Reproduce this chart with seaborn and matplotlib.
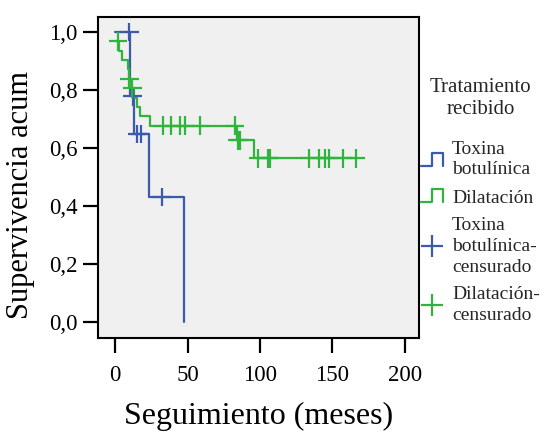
import matplotlib
matplotlib.use("Agg")
import matplotlib.pyplot as plt
from matplotlib.lines import Line2D
from matplotlib.legend_handler import HandlerBase
import seaborn as sns
import pandas as pd

# ---- data ----
groups = ["Toxina botulínica", "Dilatación"]
colors = ["#3c5aab", "#2fb53d"]

tox_t = [0.0, 10.5, 13.0, 23.7, 47.8]
tox_s = [1.000, 0.778, 0.648, 0.432, 0.000]
tox_cens_t = [9.9, 12.0, 15.0, 17.7, 32.2]
tox_cens_s = [1.000, 0.778, 0.648, 0.648, 0.432]

dil_t = [0.0, 2.5, 4.5, 8.7, 9.3, 11.0, 13.0, 15.0, 17.0, 24.0, 84.0, 96.0, 166.2]
dil_s = [0.968, 0.935, 0.903, 0.871, 0.839, 0.806, 0.774, 0.742, 0.710, 0.677,
         0.627, 0.565, 0.565]
dil_cens_t = [1.9, 9.9, 11.9, 33.3, 38.6, 44.8, 48.3, 58.6, 82.8, 84.5, 86.2,
              98.9, 105.7, 106.9, 134.0, 140.7, 145.0, 147.4, 157.0, 166.2]
dil_cens_s = [0.968, 0.839, 0.806, 0.677, 0.677, 0.677, 0.677, 0.677, 0.677,
              0.627, 0.627, 0.565, 0.565, 0.565, 0.565, 0.565, 0.565, 0.565,
              0.565, 0.565]

xticks = [0, 50, 100, 150, 200]
yticks = [0.0, 0.2, 0.4, 0.6, 0.8, 1.0]
ytick_labels = ["0,0", "0,2", "0,4", "0,6", "0,8", "1,0"]
legend_title = "Tratamiento\nrecibido"
legend_labels = ["Toxina\nbotulínica", "Dilatación",
                 "Toxina\nbotulínica-\ncensurado", "Dilatación-\ncensurado"]

curves = pd.concat([
    pd.DataFrame({"t": tox_t, "S": tox_s, "grupo": groups[0]}),
    pd.DataFrame({"t": dil_t, "S": dil_s, "grupo": groups[1]}),
], ignore_index=True)
cens = pd.concat([
    pd.DataFrame({"t": tox_cens_t, "S": tox_cens_s, "grupo": groups[0]}),
    pd.DataFrame({"t": dil_cens_t, "S": dil_cens_s, "grupo": groups[1]}),
], ignore_index=True)

# ---- style ----
sns.set_theme(style="ticks")
plt.rcParams["font.family"] = ["Liberation Serif", "DejaVu Serif"]
plt.rcParams["axes.facecolor"] = "#f0f0f0"

fig = plt.figure(figsize=(5.44, 4.32), dpi=100)
ax = fig.add_axes([0.181, 0.217, 0.589, 0.744])
ax.set_facecolor("#f0f0f0")

pal = dict(zip(groups, colors))
sns.lineplot(data=curves, x="t", y="S", hue="grupo", palette=pal,
             estimator=None, sort=False, drawstyle="steps-post",
             linewidth=1.6, legend=False, ax=ax)
sns.scatterplot(data=cens, x="t", y="S", hue="grupo", palette=pal,
                marker="+", s=180, linewidth=1.6, legend=False, ax=ax, zorder=3)

ax.set_xlim(-11.5, 209.7)
ax.set_ylim(-0.055, 1.052)
ax.set_xticks(xticks)
ax.set_xticklabels([str(v) for v in xticks])
ax.set_yticks(yticks)
ax.set_yticklabels(ytick_labels)
ax.tick_params(axis="both", direction="out", length=11, width=1.6,
               labelsize=16.5, color="black", labelcolor="black")
ax.tick_params(axis="x", pad=8)
ax.tick_params(axis="y", pad=4)
for sp in ax.spines.values():
    sp.set_visible(True)
    sp.set_color("black")
    sp.set_linewidth(1.5)

ax.set_xlabel("Seguimiento (meses)", fontsize=23, labelpad=12, color="black")
ax.set_ylabel("Supervivencia acum", fontsize=22, color="black")
ax.yaxis.set_label_coords(-0.198, 0.446)


# ---- legend with step-shaped handles ----
class StepHandler(HandlerBase):
    def create_artists(self, legend, orig_handle, xdescent, ydescent,
                       width, height, fontsize, trans):
        x0, y0 = -xdescent, -ydescent
        xs = [x0, x0 + 0.5 * width, x0 + 0.5 * width, x0 + width, x0 + width]
        ys = [y0, y0, y0 + height, y0 + height, y0]
        ln = Line2D(xs, ys, color=orig_handle.get_color(), linewidth=1.6,
                    transform=trans)
        return [ln]


h_tox = Line2D([], [], color=colors[0])
h_dil = Line2D([], [], color=colors[1])
h_tox_c = Line2D([], [], color=colors[0], marker="+", linestyle="none",
                 markersize=15.5, markeredgewidth=1.6)
h_dil_c = Line2D([], [], color=colors[1], marker="+", linestyle="none",
                 markersize=15.5, markeredgewidth=1.6)

leg = fig.legend([h_tox, h_dil, h_tox_c, h_dil_c], legend_labels,
                 title=legend_title, loc="upper left",
                 bbox_to_anchor=(0.774, 0.819), frameon=False,
                 fontsize=14, title_fontsize=15, handlelength=1.13,
                 handleheight=0.67, handletextpad=0.46, labelspacing=0.55,
                 borderaxespad=0.0, borderpad=0.0,
                 handler_map={h_tox: StepHandler(), h_dil: StepHandler()})
leg.get_title().set_multialignment("center")
leg.get_title().set_linespacing(1.21)
for t in leg.get_texts():
    t.set_linespacing(1.29)
leg._legend_box.sep = 15.5

fig.savefig("out.png", dpi=100)
